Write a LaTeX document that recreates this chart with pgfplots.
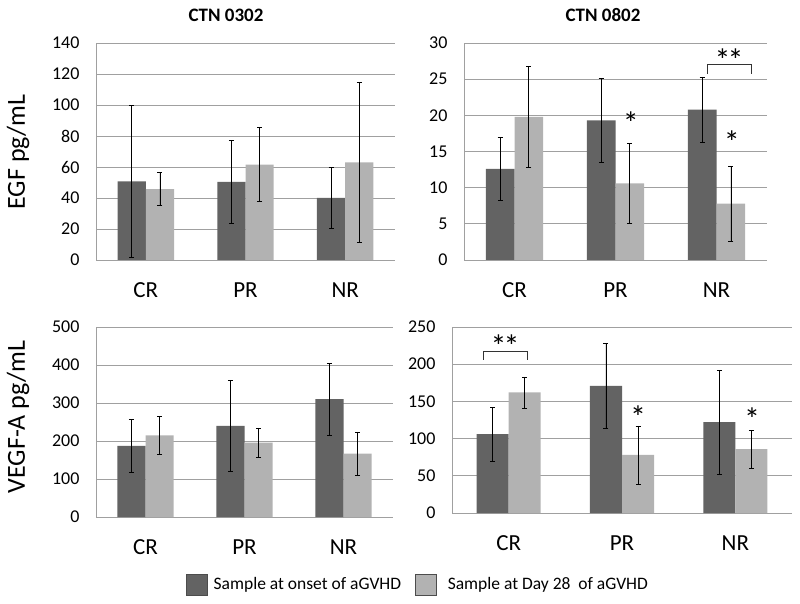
\documentclass[border=0pt]{standalone}
\usepackage{fontspec}
\setmainfont{Carlito}
\usepackage{pgfplots}
\pgfplotsset{compat=1.18}
\definecolor{darkbar}{RGB}{99,99,99}
\definecolor{lightbar}{RGB}{178,178,178}
\definecolor{gridc}{RGB}{160,160,160}
\tikzset{sigstar/.style={font=\fontsize{32}{32}\selectfont, anchor=base, yshift=-16.5pt}}
\pgfplotsset{
  panel/.style={
    scale only axis, anchor=south west,
    ybar=0pt, bar width=0.283,
    xmin=-0.5, xmax=2.5, xtick={0,1,2}, xticklabels={CR,PR,NR},
    ymin=0,
    axis x line*=bottom, axis y line*=left,
    axis line style={-, draw=gridc, line width=0.8pt},
    ymajorgrids, grid style={draw=gridc, line width=0.8pt},
    major tick length=0pt,
    tick label style={font=\fontsize{18}{20}\selectfont},
    xticklabel style={font=\fontsize{23}{26}\selectfont, yshift=-19pt},
    yticklabel style={xshift=-13pt},
    /pgf/number format/assume math mode=true,
    error bars/y dir=both, error bars/y explicit,
    error bars/error bar style={black, line width=0.6pt},
    error bars/error mark options={rotate=90, black, mark size=2.5pt, line width=0.6pt},
    clip=false,
  },
}
\begin{document}
\begin{tikzpicture}
\path[use as bounding box] (0pt,0pt) rectangle (800pt,603pt);
% titles and y labels
\node[font=\fontsize{19}{20}\bfseries\selectfont] at (226pt,588pt) {CTN 0302};
\node[font=\fontsize{19}{20}\bfseries\selectfont] at (603pt,588pt) {CTN 0802};
\node[rotate=90, font=\fontsize{26}{28}\selectfont] at (18pt,451pt) {EGF pg/mL};
\node[rotate=90, font=\fontsize{26}{28}\selectfont] at (18pt,186pt) {VEGF-A pg/mL};

% top left
\begin{axis}[panel, at={(96pt,343pt)}, width=299pt, height=217pt,
  ymax=140, ytick={0,20,...,140}]
\addplot[fill=darkbar, draw=none] coordinates {(0,50.8) +- (0,49) (1,50.4) +- (0,26.7) (2,40.0) +- (0,19.7)};
\addplot[fill=lightbar, draw=none] coordinates {(0,45.8) +- (0,10.7) (1,61.6) +- (0,23.7) (2,63.0) +- (0,51.8)};
\end{axis}

% top right
\begin{axis}[panel, at={(464pt,343pt)}, width=303pt, height=217pt,
  ymax=30, ytick={0,5,...,30}]
\addplot[fill=darkbar, draw=none] coordinates {(0,12.6) +- (0,4.4) (1,19.3) +- (0,5.8) (2,20.8) +- (0,4.5)};
\addplot[fill=lightbar, draw=none] coordinates {(0,19.8) +- (0,7.0) (1,10.6) +- (0,5.5) (2,7.8) +- (0,5.2)};
\draw[black!80, line width=0.8pt] (axis cs:1.906,25.75) -- (axis cs:1.906,27) -- (axis cs:2.342,27) -- (axis cs:2.342,25.75);
\node[sigstar] at (axis cs:2.124,28.3) {*\kern-3pt*};
\node[sigstar] at (axis cs:1.153,19.6) {*};
\node[sigstar] at (axis cs:2.153,17.0) {*};
\end{axis}

% bottom left
\begin{axis}[panel, at={(96pt,86pt)}, width=297pt, height=190pt,
  ymax=500, ytick={0,100,...,500}]
\addplot[fill=darkbar, draw=none] coordinates {(0,187) +- (0,69) (1,240) +- (0,120) (2,310) +- (0,94)};
\addplot[fill=lightbar, draw=none] coordinates {(0,215) +- (0,49) (1,196) +- (0,38.5) (2,167) +- (0,57)};
\end{axis}

% bottom right
\begin{axis}[panel, at={(452pt,90pt)}, width=340pt, height=186pt,
  ymax=250, ytick={0,50,...,250}]
\addplot[fill=darkbar, draw=none] coordinates {(0,106) +- (0,36) (1,171) +- (0,57) (2,122) +- (0,70)};
\addplot[fill=lightbar, draw=none] coordinates {(0,162) +- (0,21) (1,78) +- (0,39) (2,86) +- (0,25.5)};
\draw[black!80, line width=0.8pt] (axis cs:-0.226,206) -- (axis cs:-0.226,217.3) -- (axis cs:0.162,217.3) -- (axis cs:0.162,206);
\node[sigstar] at (axis cs:-0.032,231.6) {*\kern-3pt*};
\node[sigstar] at (axis cs:1.142,135.7) {*};
\node[sigstar] at (axis cs:2.148,133.5) {*};
\end{axis}

% legend
\begin{axis}[at={(418pt,18.5pt)}, anchor=center, hide axis, scale only axis,
  width=10pt, height=10pt, xmin=0, xmax=1, ymin=0, ymax=1,
  legend columns=2, legend cell align=left,
  legend style={at={(0.5,0.5)}, anchor=center, draw=none, fill=none,
    font=\fontsize{17.5}{20}\selectfont,
    /tikz/every even column/.append style={column sep=12pt}}]
\addlegendimage{legend image code/.code={\draw[fill=darkbar,draw=black!70,line width=0.8pt] (0pt,-10.5pt) rectangle (21pt,10.5pt); \path (25pt,0pt);}}
\addlegendentry{Sample at onset of aGVHD}
\addlegendimage{legend image code/.code={\draw[fill=lightbar,draw=black!70,line width=0.8pt] (0pt,-10.5pt) rectangle (21pt,10.5pt); \path (30pt,0pt);}}
\addlegendentry{Sample at Day 28\ \ of aGVHD}
\end{axis}
\end{tikzpicture}
\end{document}
